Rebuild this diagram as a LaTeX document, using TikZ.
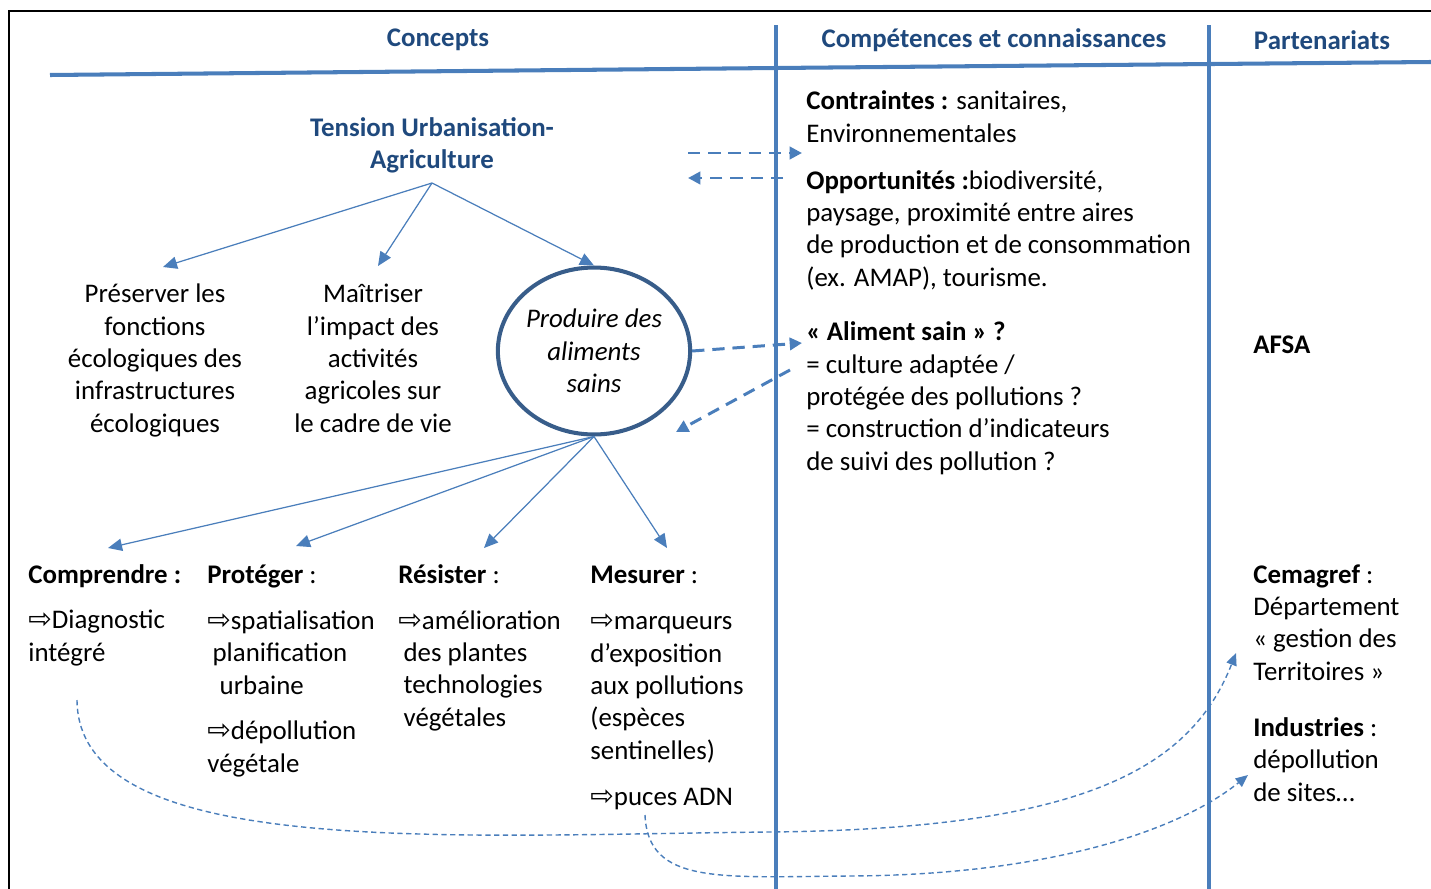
\documentclass[tikz,border=0pt]{standalone}
\usepackage{fontspec}
\setmainfont{Carlito}
\newfontfamily\symfont{DejaVu Sans}
\usetikzlibrary{arrows.meta, positioning, shapes.geometric, calc}
\definecolor{hdrblue}{HTML}{1F497D}
\definecolor{lineblue}{HTML}{4A7EBB}
\definecolor{ringblue}{HTML}{385D8A}
\newcommand{\hollowarr}{{\symfont\fontsize{16}{16}\selectfont ⇨}}
\tikzset{
  hdr/.style={font=\fontsize{15.3}{18.4}\selectfont\bfseries, text=hdrblue, inner sep=0pt},
  body/.style={font=\fontsize{15.3}{18.4}\selectfont, align=left, inner sep=0pt, anchor=base west},
  cbody/.style={font=\fontsize{15.3}{18.4}\selectfont, align=center, inner sep=0pt, anchor=base},
  rule/.style={lineblue, line width=2pt},
  branch/.style={lineblue, line width=0.7pt, -{Triangle[length=8pt,width=7pt]}},
  link/.style={lineblue, line width=1.7pt, dash pattern=on 7pt off 4.5pt, -{Triangle[length=7pt,width=7pt]}},
  flow/.style={lineblue, line width=0.8pt, dash pattern=on 3pt off 2pt, -{Triangle[length=7pt,width=6pt]}},
  ring/.style={ellipse, draw=ringblue, line width=2.3pt, minimum width=3.78cm, minimum height=3.34cm,
    inner sep=0pt, align=center, font=\fontsize{15.3}{18.4}\selectfont\itshape}
}
\begin{document}
\begin{tikzpicture}[x=0.02cm, y=-0.02cm]
  \useasboundingbox (0,0) rectangle (1431,889);
  % frame and columns
  \draw[black, line width=1.1pt] (9,889) |- (1431,11);
  \draw[rule, line width=2.3pt] (50,75) -- (776,68) -- (1431,62);
  \draw[rule] (776,25) -- (776,889);
  \draw[rule] (1209,25) -- (1209,889);
  % headers
  \node[hdr] (concepts) at (438,40) {Concepts};
  \node[hdr] (competences) at (994,40) {Compétences et connaissances};
  \node[hdr] (partners) at (1322,40) {Partenariats};
  % tension and first level (base = last line)
  \node[hdr, align=center] (tension) at (432,145) {Tension Urbanisation-\\Agriculture};
  \coordinate (fork) at (432,183);
  \node[cbody] (preserve) at (155,432) {Préserver les\\fonctions\\écologiques des\\infrastructures\\écologiques};
  \node[cbody] (control) at (373,432) {Maîtriser\\l’impact des\\activités\\agricoles sur\\le cadre de vie};
  \node[ring] (food) at (594,351) {Produire des\\aliments\\sains};
  \coordinate (preserve-in) at (163,267);
  \coordinate (control-in) at (378,266);
  \draw[branch] (fork) -- (preserve-in);
  \draw[branch] (fork) -- (control-in);
  \draw[branch] (fork) -- (food.north);
  % second level
  \node[body] (understand) at (28,583) {\textbf{Comprendre :}};
  \node[body] (diag) at (28,661) {\hollowarr Diagnostic\\intégré};
  \node[body] (protect) at (207,583) {\textbf{Protéger} :};
  \node[body] (spatial) at (207,694) {\hollowarr spatialisation\\\hspace{3pt}planification\\\hspace{7pt}urbaine};
  \node[body] (cleanup) at (207,772) {\hollowarr dépollution\\végétale};
  \node[body] (resist) at (398,583) {\textbf{Résister} :};
  \node[body] (improve) at (398,726) {\hollowarr amélioration\\\hspace{3pt}des plantes\\\hspace{3pt}technologies\\\hspace{3pt}végétales};
  \node[body] (measure) at (590,583) {\textbf{Mesurer} :};
  \node[body] (markers) at (590,759) {\hollowarr marqueurs\\d’exposition\\aux pollutions\\(espèces\\sentinelles)};
  \node[body] (chips) at (590,805) {\hollowarr puces ADN};
  \coordinate (understand-in) at (108,548);
  \coordinate (protect-in) at (296,546);
  \coordinate (resist-in) at (484,548);
  \coordinate (measure-in) at (667,548);
  \draw[branch] (food.south) -- (understand-in);
  \draw[branch] (food.south) -- (protect-in);
  \draw[branch] (food.south) -- (resist-in);
  \draw[branch] (food.south) -- (measure-in);
  % skills column
  \node[body] (constraints) at (806,142) {\textbf{Contraintes :} sanitaires,\\Environnementales};
  \node[body] (chances) at (806,286) {\textbf{Opportunités :}biodiversité,\\paysage, proximité entre aires\\de production et de consommation\\(ex. AMAP), tourisme.};
  \node[body] (healthy) at (806,470) {\textbf{« Aliment sain » ?}\\= culture adaptée /\\protégée des pollutions ?\\= construction d’indicateurs\\de suivi des pollution ?};
  \coordinate (tension-out) at (688,153);
  \coordinate (constraints-in) at (802,153);
  \coordinate (chances-out) at (783,178);
  \coordinate (tension-in) at (688,178);
  \coordinate (healthy-in) at (802,343);
  \coordinate (healthy-out) at (790,370);
  \coordinate (food-in) at (676,432);
  \draw[link] (tension-out) -- (constraints-in);
  \draw[link] (chances-out) -- (tension-in);
  \draw[link] (food.east) -- (healthy-in);
  \draw[link] (healthy-out) -- (food-in);
  % partners column
  \node[body] (afsa) at (1253,353) {\textbf{AFSA}};
  \node[body] (cemagref) at (1253,680) {\textbf{Cemagref} :\\Département\\« gestion des\\Territoires »};
  \node[body] (industry) at (1253,801) {\textbf{Industries} :\\dépollution\\de sites…};
  % links to partners
  \coordinate (diag-out) at (77,700);
  \coordinate (cemagref-in) at (1236,653);
  \coordinate (chips-out) at (645,815);
  \coordinate (industry-in) at (1248,775);
  \draw[flow] (diag-out) .. controls (78,860) and (450,835) .. (770,832)
    .. controls (1080,829) and (1190,770) .. (cemagref-in);
  \draw[flow] (chips-out) .. controls (648,885) and (720,877) .. (850,876)
    .. controls (1050,875) and (1180,830) .. (industry-in);
\end{tikzpicture}
\end{document}
